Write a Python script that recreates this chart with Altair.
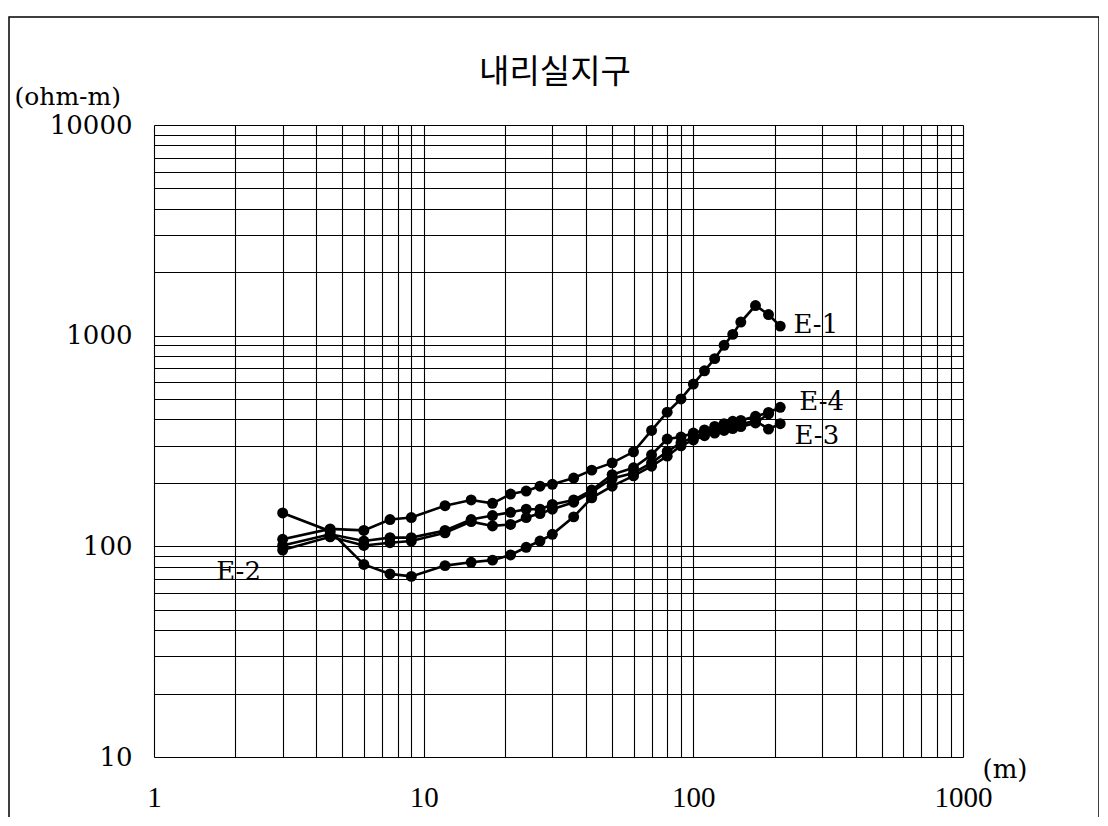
import altair as alt
import pandas as pd

# ---- data ----
series_names = ["E-1", "E-2", "E-3", "E-4"]

x_e1 = [3, 4.5, 6, 7.5, 9, 12, 15, 18, 21, 24, 27, 30, 36, 42, 50, 60, 70, 80, 90, 100, 110, 120, 130, 140, 150, 170, 190, 210]
y_e1 = [108, 121, 119, 134, 137, 156, 166, 160, 177, 183, 193, 197, 211, 230, 249, 281, 355, 433, 501, 589, 681, 778, 900, 1014, 1160, 1390, 1260, 1110]

x_e2 = [3, 4.5, 6, 7.5, 9, 12, 15, 18, 21, 24, 27, 30, 36, 42, 50, 60, 70, 80, 90, 100, 110, 120, 130, 140, 150, 170, 190]
y_e2 = [144, 118, 82, 74, 72, 81, 84, 86, 91, 99, 106, 114, 138, 170, 193, 216, 240, 268, 300, 320, 335, 345, 355, 362, 370, 385, 425]

x_e3 = [3, 4.5, 6, 7.5, 9, 12, 15, 18, 21, 24, 27, 30, 36, 42, 50, 60, 70, 80, 90, 100, 110, 120, 130, 140, 150, 170, 190, 210]
y_e3 = [96, 111, 101, 104, 106, 116, 131, 125, 127, 137, 143, 150, 162, 181, 210, 223, 249, 282, 310, 330, 345, 355, 365, 372, 380, 395, 360, 382]

x_e4 = [3, 4.5, 6, 7.5, 9, 12, 15, 18, 21, 24, 27, 30, 36, 42, 50, 60, 70, 80, 90, 100, 110, 120, 130, 140, 150, 170, 190, 210]
y_e4 = [101, 114, 106, 110, 110, 119, 134, 140, 145, 150, 150, 158, 166, 185, 219, 236, 272, 323, 330, 345, 357, 371, 382, 392, 396, 414, 432, 457]

# curve labels (data coordinates of the label anchor)
label_text = ["E-1", "E-2", "E-3", "E-4"]
label_x = [235, 1.70, 237, 247]
label_y = [1127, 75.4, 333, 482]

x_ticks = [1, 2, 3, 4, 5, 6, 7, 8, 9, 10, 20, 30, 40, 50, 60, 70, 80, 90,
           100, 200, 300, 400, 500, 600, 700, 800, 900, 1000]
y_ticks = [10, 20, 30, 40, 50, 60, 70, 80, 90, 100, 200, 300, 400, 500, 600, 700, 800, 900,
           1000, 2000, 3000, 4000, 5000, 6000, 7000, 8000, 9000, 10000]

title_text = "내리실지구"
y_unit = "(ohm-m)"
x_unit = "(m)"

# ---- build tables ----
rows = []
for name, xs, ys in zip(series_names, [x_e1, x_e2, x_e3, x_e4], [y_e1, y_e2, y_e3, y_e4]):
    for i, (a, b) in enumerate(zip(xs, ys)):
        rows.append({"series": name, "x": a, "y": b, "i": i})
df = pd.DataFrame(rows)
labels_df = pd.DataFrame({"t": label_text, "x": label_x, "y": label_y})

SERIF = "Liberation Serif"
WIDE_SERIF = "DejaVu Serif"
W, H = 809, 632

xscale = alt.Scale(type="log", domain=[1, 1000], nice=False)
yscale = alt.Scale(type="log", domain=[10, 10000], nice=False)

common_axis = dict(
    grid=True, gridColor="black", gridWidth=1.1, gridOpacity=1,
    ticks=False, domain=False,
    labelColor="black",
    labelOverlap=False, labelFlush=False, labelBound=False,
    titleFontWeight="normal", titleColor="black",
    titleAngle=0,
)

xaxis = alt.Axis(
    values=x_ticks,
    labelExpr="(datum.value == 1 || datum.value == 10 || datum.value == 100 || datum.value == 1000) ? format(datum.value, 'd') : ''",
    labelFont=SERIF, labelFontSize=29,
    labelPadding=26, labelBaseline="top", labelAlign="center",
    title=x_unit, titleFont=WIDE_SERIF, titleFontSize=26,
    titleX=828, titleY=12, titleAlign="left", titleBaseline="middle",
    **common_axis,
)
yaxis = alt.Axis(
    values=y_ticks,
    labelExpr="(datum.value == 10 || datum.value == 100 || datum.value == 1000 || datum.value == 10000) ? format(datum.value, 'd') : ''",
    labelFont=WIDE_SERIF, labelFontSize=26,
    labelPadding=22, labelBaseline="middle",
    title=y_unit, titleFont=WIDE_SERIF, titleFontSize=25,
    titleX=-140, titleY=-29, titleAlign="left", titleBaseline="middle",
    **common_axis,
)

X = alt.X("x:Q", scale=xscale, axis=xaxis)
Y = alt.Y("y:Q", scale=yscale, axis=yaxis)

base = alt.Chart(df)
lines = base.mark_line(color="black", strokeWidth=2.6).encode(
    x=X, y=Y, detail="series:N", order="i:Q"
)
points = base.mark_circle(color="black", size=120, opacity=1).encode(x=X, y=Y)

labels = alt.Chart(labels_df).mark_text(
    align="left", baseline="middle", font=WIDE_SERIF, fontSize=26, color="black"
).encode(x=X, y=Y, text="t:N")

title_df = pd.DataFrame({"t": [title_text]})
title = alt.Chart(title_df).mark_text(
    align="center", baseline="middle", font="Noto Sans CJK KR", fontSize=33, color="black"
).encode(x=alt.value(401), y=alt.value(-52), text="t:N")

frame = alt.Chart(pd.DataFrame({"f": [0]})).mark_rect(
    filled=False, stroke="black", strokeWidth=1.5
).encode(x=alt.value(-145), x2=alt.value(945), y=alt.value(-108), y2=alt.value(700))

chart = alt.layer(lines, points, labels, title, frame).properties(
    width=W, height=H,
    padding={"left": 146, "top": 117, "right": 136, "bottom": 60},
    autosize=alt.AutoSizeParams(type="none"),
).configure_view(stroke="black", strokeWidth=1.8).configure(background="white")

chart.save("out.html", embed_options={"renderer": "svg", "actions": False})
